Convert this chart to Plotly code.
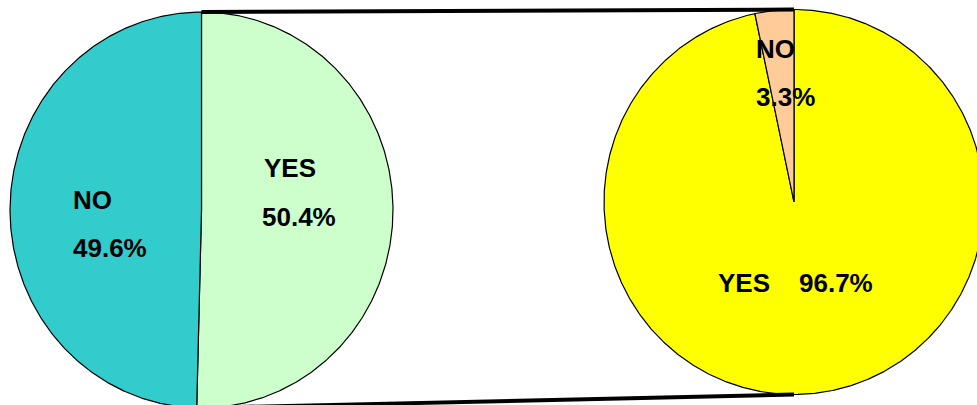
import numpy as np
import plotly.graph_objects as go

# ---- data ----
left_labels = ["YES", "NO"]
left_values = [50.4, 49.6]
left_colors = ["#CCFFCC", "#33CCCC"]

right_labels = ["YES", "NO"]
right_values = [96.7, 3.3]
right_colors = ["#FFFF00", "#FFCC99"]

# ---- geometry (pixel-like axis units, y downward) ----
W, H = 977, 405
L_C, L_R = (201.5, 210.0), (191.5, 198.0)
R_C, R_R = (794.0, 202.0), (190.0, 192.5)


def pt(c, r, deg):
    t = np.deg2rad(deg)
    return c[0] + r[0] * np.sin(t), c[1] - r[1] * np.cos(t)


def slices(values):
    tot = sum(values)
    out, a = [], 0.0
    for v in values:
        b = a + 360.0 * v / tot
        out.append((a, b))
        a = b
    return out


def wedge(c, r, a0, a1):
    angs = np.linspace(a0, a1, max(int(abs(a1 - a0) * 2), 8))
    xs, ys = pt(c, r, angs)
    return [c[0], *xs, c[0]], [c[1], *ys, c[1]]


fig = go.Figure()

for c, r, vals, cols, labs in [
    (L_C, L_R, left_values, left_colors, left_labels),
    (R_C, R_R, right_values, right_colors, right_labels),
]:
    for (a0, a1), col, lab in zip(slices(vals), cols, labs):
        xs, ys = wedge(c, r, a0, a1)
        fig.add_trace(go.Scatter(
            x=xs, y=ys, mode="lines", fill="toself", fillcolor=col,
            line=dict(color="black", width=1.2), name=lab,
            hoverinfo="skip", showlegend=False))

# connector lines: from the left pie's YES slice ends to the right pie's top/bottom
l_slices = slices(left_values)
lt = pt(L_C, L_R, l_slices[0][0])
lb = pt(L_C, L_R, l_slices[0][1])
rt = pt(R_C, R_R, 0.0)
rb = pt(R_C, R_R, 180.0)
for p, q in [(lt, rt), (lb, rb)]:
    fig.add_trace(go.Scatter(
        x=[p[0], q[0]], y=[p[1], q[1]], mode="lines",
        line=dict(color="black", width=4), hoverinfo="skip", showlegend=False))

font = dict(family="Liberation Sans, Arial, sans-serif", size=26, color="black", weight="bold")
texts = [
    ("NO", 71, 200), (f"{left_values[1]}%", 71, 248),
    ("YES", 261.5, 168), (f"{left_values[0]}%", 260, 217),
    ("NO", 754, 49), (f"{right_values[1]}%", 754, 97),
    ("YES", 716, 283), (f"{right_values[0]}%", 797, 283),
]
for t, x, y in texts:
    fig.add_annotation(x=x, y=y, text=t, showarrow=False, xanchor="left",
                       yanchor="middle", font=font, xref="x", yref="y")

fig.update_xaxes(range=[0, W], visible=False, fixedrange=True)
fig.update_yaxes(range=[H, 0], visible=False, fixedrange=True)
fig.update_layout(width=W, height=H, margin=dict(l=0, r=0, t=0, b=0),
                  plot_bgcolor="white", paper_bgcolor="white", showlegend=False)

fig.write_html("out.html")
